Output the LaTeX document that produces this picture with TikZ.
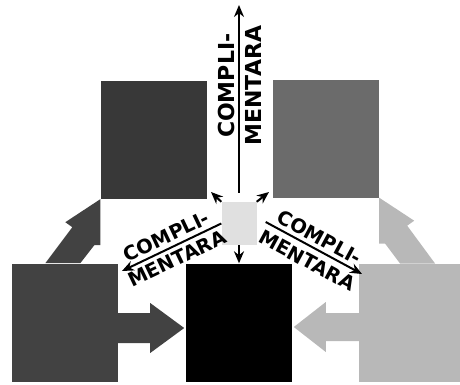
\documentclass[tikz,border=0pt]{standalone}
\usepackage{fontspec}
\setsansfont{DejaVu Sans}
\usetikzlibrary{arrows.meta,calc}

\definecolor{grishg}{gray}{0.22}
\definecolor{grishd}{gray}{0.42}
\definecolor{grisbg}{gray}{0.26}
\definecolor{grisbd}{gray}{0.72}
\definecolor{griscentre}{gray}{0.88}

\begin{document}
\begin{tikzpicture}[x=1pt,y=1pt,
    carre/.style={inner sep=0pt, minimum width=106pt, minimum height=118pt},
    fleche/.style={line width=2pt, -{Stealth[length=12pt,width=10pt]}},
    etiqv/.style={font=\sffamily\bfseries\fontsize{22}{22}\selectfont},
    etiqd/.style={font=\sffamily\bfseries\fontsize{19.5}{19.5}\selectfont}]
  \useasboundingbox (0,0) rectangle (460,384);

  % Carres
  \node[carre, fill=grishg] (tl) at (153.5,244) {};
  \node[carre, fill=grishd] (tr) at (326,245.5) {};
  \node[carre, fill=grisbg] (bl) at (65,61.5) {};
  \node[carre, fill=black] (bc) at (239,61.5) {};
  \node[carre, fill=grisbd, minimum width=101pt] (br) at (409.5,61.5) {};
  \node[inner sep=0pt, minimum width=35pt, minimum height=43pt, fill=griscentre] (ctr) at (239,160.5) {};

  % Grosses fleches obliques
  \fill[grisbg] (tl.south west) -- ++(0,-46) -- ++(-6,0) -- ++(-14,-18) -- ++(-35,0) -- ++(27,36) -- ++(-7,5) -- cycle;
  \fill[grisbd] (tr.south east) -- ++(0,-46) -- ++(6,0) -- ++(15,-20) -- ++(35,0) -- ++(-28,38) -- ++(7,5) -- cycle;

  % Fleches horizontales
  \fill[grisbg] (bl.east) ++(0,9.5) -- ++(32,0) -- ++(0,10) -- ++(34,-25) -- ++(-34,-25) -- ++(0,10) -- ++(-32,0) -- cycle;
  \fill[grisbd] (br.west) ++(0,9.5) -- ++(-33,0) -- ++(0,11) -- ++(-32,-25) -- ++(32,-25) -- ++(0,11) -- ++(33,0) -- cycle;

  % Fleches fines
  \coordinate (haut) at (239,379);
  \coordinate (fg) at (122,113);
  \coordinate (fd) at (362,110);
  \coordinate (pg) at (211,192);
  \coordinate (pd) at (269,192);

  \draw[fleche] ([yshift=9pt]ctr.north) -- (haut)
    node[etiqv, pos=0.57, sloped, above, inner sep=3pt] {COMPLI-}
    node[etiqv, pos=0.57, sloped, below, inner sep=5.5pt] {MENTARA};
  \draw[fleche] (ctr.west) -- (fg)
    node[etiqd, midway, sloped, above, inner sep=4pt] {COMPLI-}
    node[etiqd, midway, sloped, below, inner sep=4.5pt] {MENTARA};
  \draw[fleche] ([shift={(9,1.5)}]ctr.east) -- (fd)
    node[etiqd, midway, sloped, above, inner sep=4pt] {COMPLI-}
    node[etiqd, midway, sloped, below, inner sep=6pt] {MENTARA};
  \draw[fleche] (ctr.north west) -- (pg);
  \draw[fleche] (ctr.north east) -- (pd);
  \draw[fleche] (ctr.south) -- (ctr.south |- bc.north);
\end{tikzpicture}
\end{document}
